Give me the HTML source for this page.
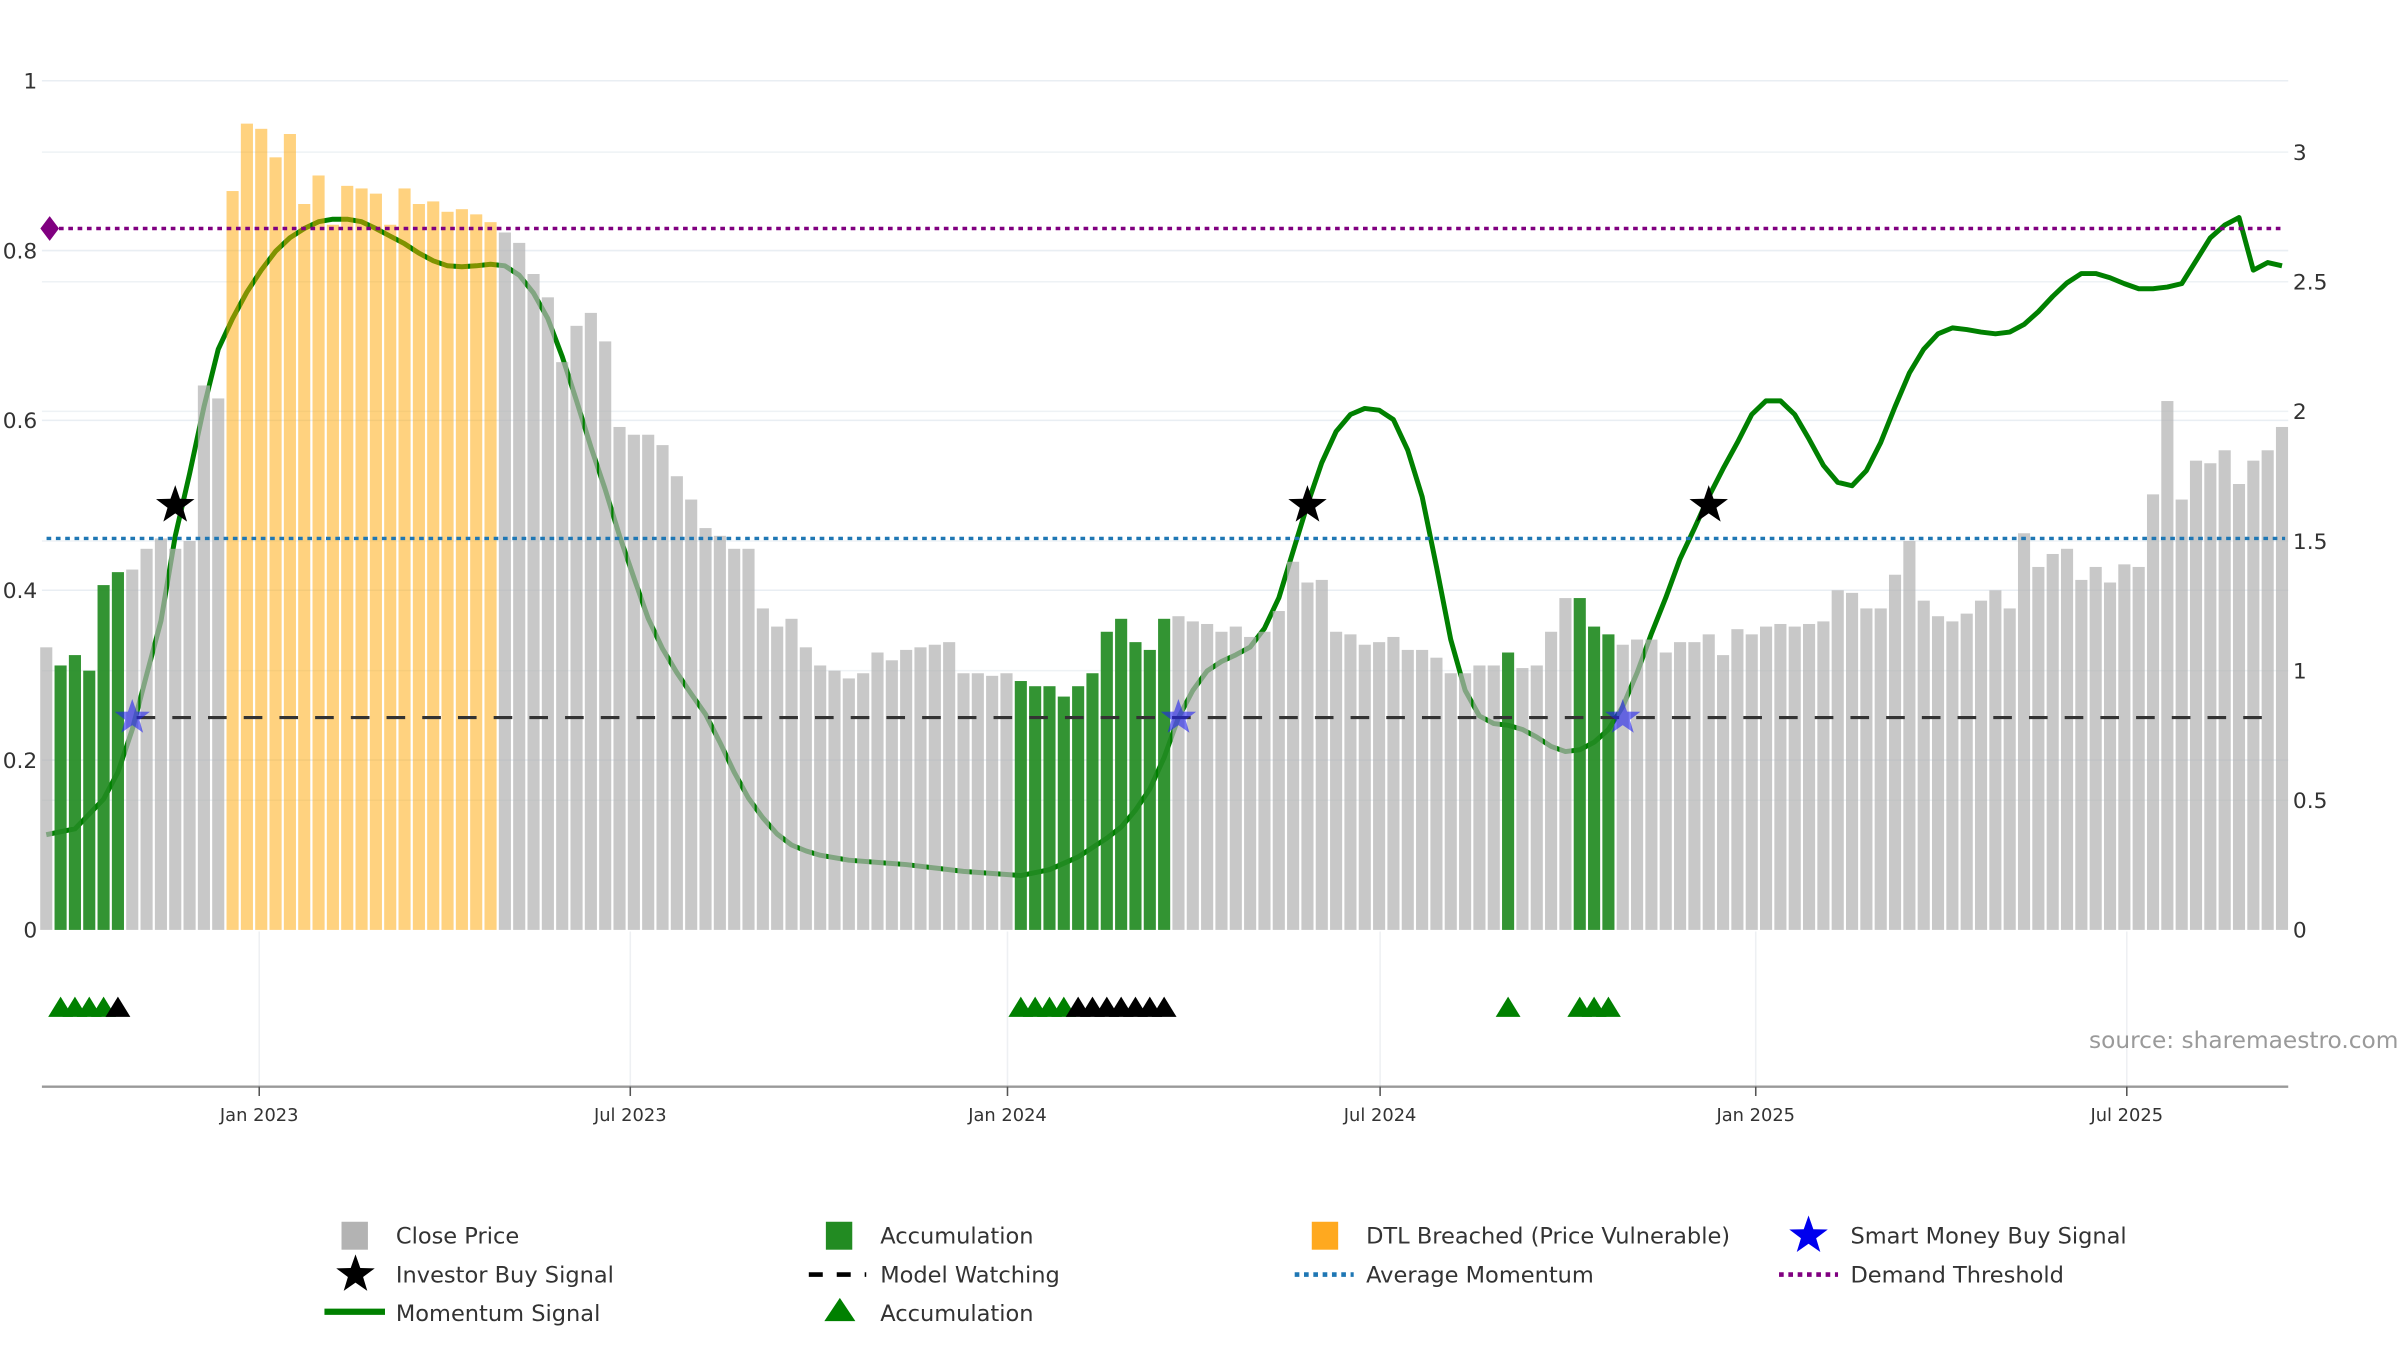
<!DOCTYPE html>
<html><head><meta charset="utf-8"><title>Momentum chart</title>
<style>
html,body{margin:0;padding:0;background:#fff;}
svg{display:block;font-family:"DejaVu Sans","Liberation Sans",sans-serif;}
</style></head>
<body>
<svg id="chart" width="2400" height="1350" viewBox="0 0 1546 869.6" xmlns="http://www.w3.org/2000/svg">
<g id="grid"></g>
<g id="lines"></g>
<g id="momentum"></g>
<g id="bars"></g>
<g id="hlines"></g>
<g id="markers"></g>
<g id="axes"></g>
<text x="1545" y="675" text-anchor="end" font-size="15" fill="#9a9a9a">source: sharemaestro.com</text>
<g id="legend"></g>
</svg>
<script>
// ---- data ----
const prices = [1.09,1.02,1.06,1.00,1.33,1.38,1.39,1.47,1.51,1.47,1.50,2.10,2.05,
2.85,3.11,3.09,2.98,3.07,2.80,2.91,2.72,2.87,2.86,2.84,2.72,2.86,2.80,2.81,2.77,2.78,2.76,2.73,
2.69,2.65,2.53,2.44,2.19,2.33,2.38,2.27,1.94,1.91,1.91,1.87,1.75,1.66,1.55,1.52,1.47,1.47,1.24,1.17,1.20,1.09,
1.02,1.00,0.97,0.99,1.07,1.04,1.08,1.09,1.10,1.11,0.99,0.99,0.98,0.99,0.96,0.94,0.94,0.90,0.94,0.99,1.15,1.20,1.11,1.08,1.20,
1.21,1.19,1.18,1.15,1.17,1.13,1.15,1.23,1.42,1.34,1.35,1.15,1.14,1.10,1.11,1.13,1.08,1.08,1.05,0.99,0.99,1.02,1.02,1.07,1.01,1.02,1.15,1.28,1.28,1.17,1.14,
1.10,1.12,1.12,1.07,1.11,1.11,1.14,1.06,1.16,1.14,1.17,1.18,1.17,1.18,1.19,1.31,1.30,1.24,1.24,1.37,1.50,1.27,1.21,1.19,1.22,1.27,1.31,1.24,1.53,1.40,1.45,1.47,1.35,1.40,1.34,1.41,1.40,1.68,2.04,1.66,1.81,1.80,1.85,1.72,1.81,1.85,1.94];
const accumWeeks = [1,2,3,4,5,68,69,70,71,72,73,74,75,76,77,78,102,107,108,109];
const dtlWeeks = [13,14,15,16,17,18,19,20,21,22,23,24,25,26,27,28,29,30,31];
const momWeeks = [0,2,4,5,6,7,8,9,10,11,12,13,14,15,16,17,18,19,20,21,22,23,24,25,26,27,28,29,30,31,32,33,34,35,36,37,38,39,40,41,42,43,44,45,46,47,48,49,50,51,52,53,54,56,60,64,68,70,72,74,75,76,77,78,79,80,81,82,83,84,85,86,87,88,89,90,91,92,93,94,95,96,97,98,99,100,101,102,103,104,105,106,107,108,109,110,111,112,113,114,115,116,117,118,119,120,121,122,123,124,125,126,127,128,129,130,131,132,133,134,135,136,137,138,139,140,141,142,143,144,145,146,147,148,149,150,151,152,153,154,155,156];
const momValues = [.112,.119,.154,.186,.236,.30,.364,.464,.537,.616,.684,.72,.751,.777,.799,.815,.826,.834,.837,.837,.834,.826,.817,.808,.797,.788,.782,.781,.782,.784,.782,.771,.75,.72,.675,.623,.569,.519,.464,.415,.367,.331,.303,.278,.254,.221,.186,.155,.132,.113,.10,.093,.088,.082,.077,.069,.064,.071,.086,.108,.121,.141,.166,.203,.25,.282,.305,.316,.324,.333,.355,.391,.446,.501,.55,.587,.607,.614,.612,.601,.565,.51,.428,.342,.282,.252,.243,.241,.236,.227,.216,.21,.212,.221,.236,.263,.303,.349,.391,.437,.473,.51,.543,.574,.607,.623,.623,.607,.578,.547,.527,.523,.541,.574,.616,.656,.684,.702,.709,.707,.704,.702,.704,.713,.728,.746,.762,.773,.773,.768,.761,.755,.755,.757,.761,.788,.815,.83,.839,.777,.786,.782];
const investorWeeks = [9,88,116];
const investorLevel = 0.5;
const smartWeeks = [6,79,110];
const smartLevel = 0.25;
const triGreenWeeks = [1,2,3,4,68,69,70,71,102,107,108,109];
const triBlackWeeks = [5,72,73,74,75,76,77,78];
const demandThreshold = 0.826;
const avgMomentum = 0.461;
const modelWatching = 0.25;
const leftTicks = [0,0.2,0.4,0.6,0.8,1];
const leftTickLabels = ["0","0.2","0.4","0.6","0.8","1"];
const rightTicks = [0,0.5,1,1.5,2,2.5,3];
const rightTickLabels = ["0","0.5","1","1.5","2","2.5","3"];
const dateTickWeeks = [14.86,40.75,67.07,93.07,119.28,145.17];
const dateTickLabels = ["Jan 2023","Jul 2023","Jan 2024","Jul 2024","Jan 2025","Jul 2025"];

// ---- scales ----
const NS="http://www.w3.org/2000/svg";
const xW = w => 29.8 + 9.232*w;
const yL = v => 599 - v*547;
const yR = v => 599 - v*167;
function mk(tag, attrs, parent){const e=document.createElementNS(NS,tag);for(const k in attrs)e.setAttribute(k,attrs[k]);parent.appendChild(e);return e;}
const G=id=>document.getElementById(id);

// grid
leftTicks.forEach(t=>{ if(t>0){const l=mk('line',{x1:27,x2:1474,y1:yL(t),y2:yL(t),stroke:'#e9eef3','stroke-width':1},G('grid'));

}});
rightTicks.forEach(t=>{ if(t>0){const l=mk('line',{x1:27,x2:1474,y1:yR(t),y2:yR(t),stroke:'#eef2f5','stroke-width':1},G('grid'));

}});
dateTickWeeks.forEach(w=>{const l=mk('line',{x1:xW(w),x2:xW(w),y1:600,y2:700,stroke:'#eef0f3','stroke-width':1},G('grid'));

});

// momentum line (drawn under bars)
let d='';momWeeks.forEach((w,i)=>{d+=(i?'L':'M')+xW(w).toFixed(1)+','+yL(momValues[i]).toFixed(1);});
const ml=mk('path',{d:d,fill:'none',stroke:'#008000','stroke-width':3.2,'stroke-linejoin':'round'},G('momentum'));



// bars
prices.forEach((p,i)=>{
  let fill='#b3b3b3',op=0.72,name='close-price-bar';
  if(accumWeeks.includes(i)){fill='#228b22';op=0.92;name='accumulation-bar';}
  else if(dtlWeeks.includes(i)){fill='#ffa500';op=0.5;name='dtl-breached-bar';}
  const r=mk('rect',{x:xW(i)-3.9,y:yR(p),width:7.8,height:599-yR(p),fill:fill,'fill-opacity':op},G('bars'));
  
  
});

// horizontal lines
const h1=mk('line',{x1:32,x2:1472,y1:yL(demandThreshold),y2:yL(demandThreshold),stroke:'#800080','stroke-width':2.2,'stroke-dasharray':'3,3'},G('hlines'));


const dm=mk('path',{d:`M32,${yL(demandThreshold)-8}L38,${yL(demandThreshold)}L32,${yL(demandThreshold)+8}L26,${yL(demandThreshold)}Z`,fill:'#800080'},G('hlines'));


const h2=mk('line',{x1:30,x2:1472,y1:yL(avgMomentum),y2:yL(avgMomentum),stroke:'#1f77b4','stroke-width':2.2,'stroke-dasharray':'3,3'},G('hlines'));


const h3=mk('line',{x1:88,x2:1462,y1:yL(modelWatching),y2:yL(modelWatching),stroke:'#333','stroke-width':2,'stroke-dasharray':'12,11'},G('hlines'));



// markers
function starPath(cx,cy,R,r){let s='';for(let k=0;k<10;k++){const a=-Math.PI/2+k*Math.PI/5;const rr=k%2?r:R;s+=(k?'L':'M')+(cx+rr*Math.cos(a)).toFixed(1)+','+(cy+rr*Math.sin(a)).toFixed(1);}return s+'Z';}
investorWeeks.forEach(w=>{const s=mk('path',{d:starPath(xW(w),yL(investorLevel),13,5.2),fill:'#000'},G('markers'));

});
smartWeeks.forEach(w=>{const s=mk('path',{d:starPath(xW(w),yL(smartLevel),12,4.8),fill:'#2222ee','fill-opacity':0.6},G('markers'));

});
function tri(w,color){const x=xW(w);const t=mk('path',{d:`M${x-8},655L${x},642L${x+8},655Z`,fill:color},G('markers'));

}
triGreenWeeks.forEach(w=>tri(w,'#008000'));
triBlackWeeks.forEach(w=>tri(w,'#000'));

// axes
const ax=mk('line',{x1:27,x2:1474,y1:700,y2:700,stroke:'#999','stroke-width':1.5},G('axes'));


dateTickWeeks.forEach((w,i)=>{
  const t=mk('line',{x1:xW(w),x2:xW(w),y1:700,y2:706,stroke:'#555','stroke-width':1},G('axes'));
  
  
  const tx=mk('text',{x:xW(w),y:722,'text-anchor':'middle','font-size':11.5,fill:'#333'},G('axes'));
  tx.textContent=dateTickLabels[i];
  
  
});
leftTicks.forEach((t,i)=>{const tx=mk('text',{x:24,y:yL(t)+5,'text-anchor':'end','font-size':14,fill:'#333'},G('axes'));
tx.textContent=leftTickLabels[i];

});
rightTicks.forEach((t,i)=>{const tx=mk('text',{x:1477,y:yR(t)+5,'text-anchor':'start','font-size':14,fill:'#333'},G('axes'));
tx.textContent=rightTickLabels[i];

});

// legend
const lg=G('legend');
function ltext(x,y,s){const t=mk('text',{x:x,y:y+5,'font-size':14.5,fill:'#333'},lg);t.textContent=s;

}
function lent(el,name){
}
lent(mk('rect',{x:220,y:787,width:17,height:18,fill:'#b3b3b3'},lg),'legend-close-price-swatch');ltext(255,796,'Close Price');
lent(mk('path',{d:starPath(229,821,13,5.2),fill:'#000'},lg),'legend-investor-star');ltext(255,821,'Investor Buy Signal');
lent(mk('line',{x1:209,x2:248,y1:845,y2:845,stroke:'#008000','stroke-width':4},lg),'legend-momentum-line');ltext(255,846,'Momentum Signal');
lent(mk('rect',{x:532,y:787,width:17,height:18,fill:'#228b22'},lg),'legend-accumulation-swatch');ltext(567,796,'Accumulation');
lent(mk('line',{x1:521,x2:558,y1:821,y2:821,stroke:'#000','stroke-width':3,'stroke-dasharray':'9,9'},lg),'legend-model-watching-line');ltext(567,821,'Model Watching');
lent(mk('path',{d:'M531,851L541,836L551,851Z',fill:'#008000'},lg),'legend-accumulation-triangle');ltext(567,846,'Accumulation');
lent(mk('rect',{x:845,y:787,width:17,height:18,fill:'#ffa91f'},lg),'legend-dtl-swatch');ltext(880,796,'DTL Breached (Price Vulnerable)');
lent(mk('line',{x1:834,x2:872,y1:821,y2:821,stroke:'#1f77b4','stroke-width':3,'stroke-dasharray':'3,3'},lg),'legend-average-momentum-line');ltext(880,821,'Average Momentum');
lent(mk('path',{d:starPath(1165,796,13,5.2),fill:'#0000ee'},lg),'legend-smart-money-star');ltext(1192,796,'Smart Money Buy Signal');
lent(mk('line',{x1:1146,x2:1184,y1:821,y2:821,stroke:'#800080','stroke-width':3,'stroke-dasharray':'3,3'},lg),'legend-demand-threshold-line');ltext(1192,821,'Demand Threshold');
</script>
</body></html>
